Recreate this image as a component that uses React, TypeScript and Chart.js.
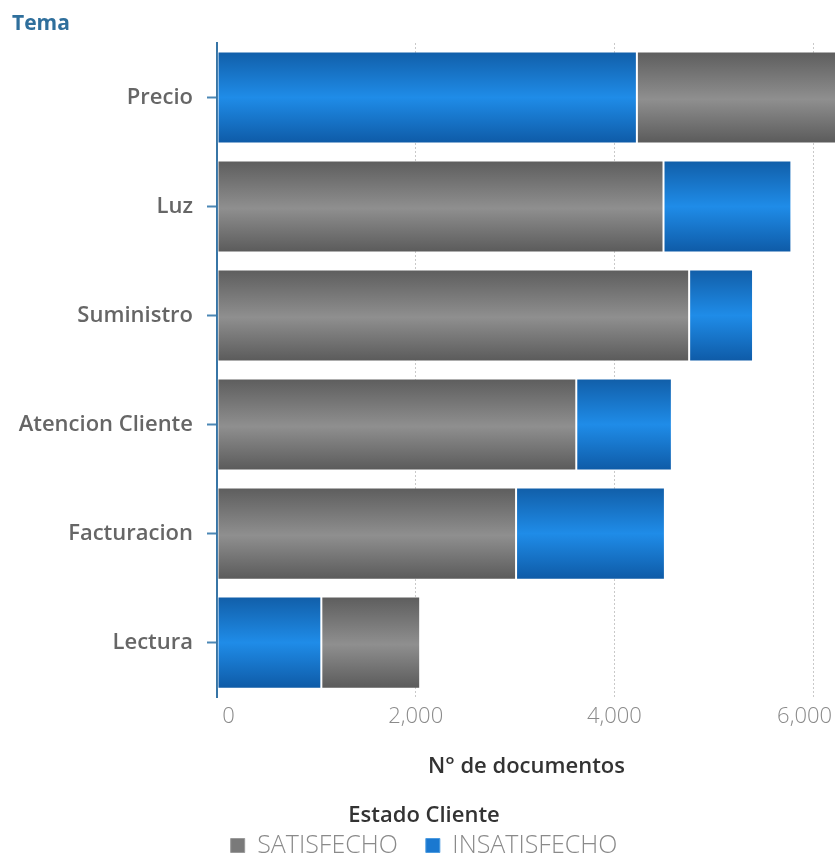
import React, { useEffect, useRef } from "react";
import { Chart, registerables } from "chart.js";

Chart.register(...registerables);

// Topics (Tema) and document counts per customer state
const categories = ["Precio", "Luz", "Suministro", "Atencion Cliente", "Facturacion", "Lectura"];
const satisfecho = [2004, 4494, 4752, 3616, 3010, 995];
const insatisfecho = [4226, 1287, 643, 962, 1498, 1050];
const xTicks = [0, 2000, 4000, 6000];

const seriesLabels = ["SATISFECHO", "INSATISFECHO"];
const FONT = "'Open Sans', Lato, sans-serif";
const BAR_FRACTION = 0.845;

// The larger segment of each bar starts at zero, the smaller one is stacked after it.
const satRanges = categories.map((_, i) =>
  satisfecho[i] >= insatisfecho[i] ? [0, satisfecho[i]] : [insatisfecho[i], insatisfecho[i] + satisfecho[i]]
);
const insRanges = categories.map((_, i) =>
  insatisfecho[i] > satisfecho[i] ? [0, insatisfecho[i]] : [satisfecho[i], satisfecho[i] + insatisfecho[i]]
);
const totals = categories.map((_, i) => satisfecho[i] + insatisfecho[i]);

type Stops = [number, string][];
const grayStops: Stops = [
  [0, "#5d5d5d"],
  [0.52, "#8f8f8f"],
  [1, "#5a5a5a"],
];
const blueStops: Stops = [
  [0, "#115ea8"],
  [0.5, "#1f8ce8"],
  [1, "#0e5aa6"],
];

function barGradient(stops: Stops, fallback: string) {
  return (ctx: any) => {
    const chart = ctx.chart;
    if (ctx.type !== "data" || !chart.chartArea || !chart.scales.y) return fallback;
    const yScale = chart.scales.y;
    const center = yScale.getPixelForValue(ctx.dataIndex);
    const half = ((yScale.bottom - yScale.top) / categories.length) * BAR_FRACTION / 2;
    const g = chart.ctx.createLinearGradient(0, center - half, 0, center + half);
    stops.forEach(([o, c]) => g.addColorStop(o, c));
    return g;
  };
}

// Edge labels are nudged inwards so they stay clear of the axis line and the canvas edge.
const NBSP = "\u00a0";
function xTickLabel(v: any) {
  const n = Number(v);
  const text = n.toLocaleString("en-US");
  if (n === xTicks[0]) return NBSP.repeat(4) + text;
  if (n === xTicks[xTicks.length - 1]) return text + NBSP.repeat(3);
  return text;
}

export default function App() {
  const canvasRef = useRef<HTMLCanvasElement | null>(null);

  useEffect(() => {
    if (!canvasRef.current) return;
    const chart = new Chart(canvasRef.current, {
      type: "bar",
      data: {
        labels: categories,
        datasets: [
          {
            label: seriesLabels[0],
            data: satRanges as any,
            backgroundColor: barGradient(grayStops, "#7a7a7a"),
            borderColor: "rgba(255,255,255,0.28)",
            borderWidth: 1,
            borderSkipped: false,
            grouped: false,
            categoryPercentage: 1,
            barPercentage: BAR_FRACTION,
          } as any,
          {
            label: seriesLabels[1],
            data: insRanges as any,
            backgroundColor: barGradient(blueStops, "#1a78d0"),
            borderColor: "rgba(255,255,255,0.28)",
            borderWidth: 1,
            borderSkipped: false,
            grouped: false,
            categoryPercentage: 1,
            barPercentage: BAR_FRACTION,
          } as any,
        ],
      },
      options: {
        indexAxis: "y",
        animation: false,
        responsive: true,
        maintainAspectRatio: false,
        layout: { autoPadding: false, padding: { left: 12, right: 2, top: 0, bottom: -3 } },
        scales: {
          x: {
            type: "linear",
            bounds: "data",
            min: 0,
            max: Math.max(...totals),
            afterBuildTicks: (scale: any) => {
              scale.ticks = xTicks.map((v) => ({ value: v }));
            },
            // let the plot run to the right edge; the last label fits on its own
            afterFit: (scale: any) => {
              scale.paddingLeft = 0;
              scale.paddingRight = 0;
            },
            ticks: {
              includeBounds: false,
              color: "#8a8a8a",
              font: { family: FONT, size: 22, weight: 300 },
              padding: 6.4,
              maxRotation: 0,
              callback: xTickLabel,
            },
            grid: {
              color: "#c9c9c9",
              lineWidth: 1,
              drawTicks: false,
            },
            border: { display: false, dash: [2, 2] },
            title: {
              display: true,
              text: "N° de documentos",
              color: "#333333",
              font: { family: FONT, size: 22, weight: 600 },
              padding: { top: 17.4, bottom: 0 },
            },
          },
          y: {
            type: "category",
            afterFit: (scale: any) => {
              scale.width = 205;
            },
            ticks: {
              color: "#666666",
              font: { family: FONT, size: 22, weight: 600 },
              padding: 14,
            },
            grid: {
              offset: false,
              drawOnChartArea: false,
              drawTicks: true,
              tickLength: 10,
              tickColor: "#4a87b5",
              tickWidth: 2,
            },
            border: { display: true, color: "#3775a6", width: 2 },
          },
        },
        plugins: {
          title: {
            display: true,
            text: "Tema",
            align: "start",
            color: "#2f6f9c",
            font: { family: FONT, size: 21, weight: 700 },
            padding: { top: 11.4, bottom: 6.4 },
          },
          legend: {
            position: "bottom",
            title: {
              display: true,
              text: "Estado Cliente",
              color: "#333333",
              font: { family: FONT, size: 22, weight: 600 },
              padding: { top: 24.4, bottom: -25.9 },
            },
            labels: {
              color: "#8a8a8a",
              font: { family: FONT, size: 25, weight: 300 },
              boxWidth: 14,
              boxHeight: 14,
              padding: 28,
              generateLabels: () =>
                seriesLabels.map((text, i) => ({
                  text,
                  fillStyle: i === 0 ? "#7a7a7a" : "#1a78d0",
                  strokeStyle: i === 0 ? "#9a9a9a" : "#4c9be0",
                  lineWidth: 1,
                  fontColor: "#8a8a8a",
                  hidden: false,
                  datasetIndex: i,
                })),
            },
          },
          tooltip: { enabled: false },
        },
      } as any,
    });
    return () => chart.destroy();
  }, []);

  return (
    <div style={{ position: "absolute", left: 0, top: 0, width: 838, height: 865 }}>
      <canvas ref={canvasRef} />
    </div>
  );
}
